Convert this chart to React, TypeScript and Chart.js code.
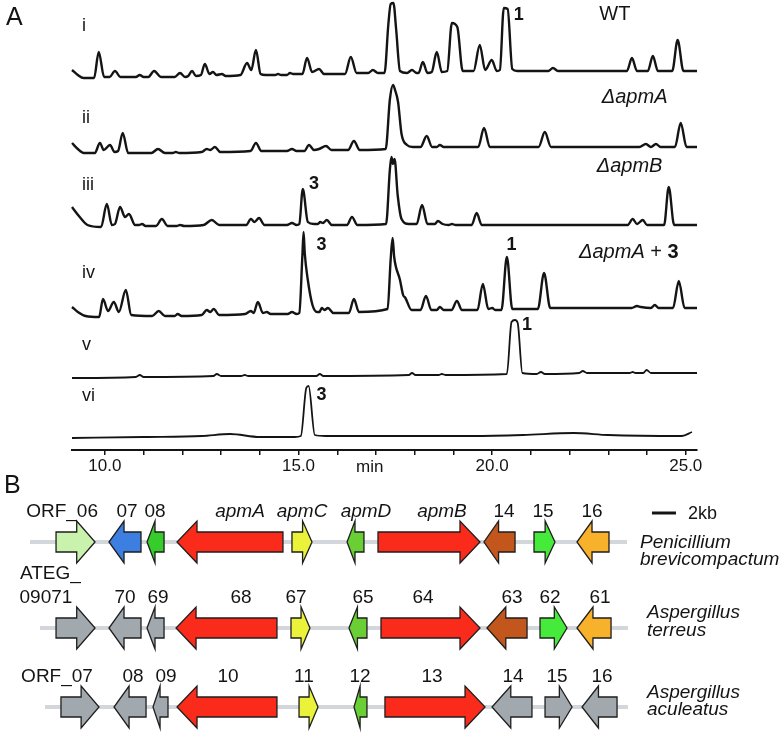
import React, { useEffect, useRef } from 'react';
import { Chart, registerables } from 'chart.js';
Chart.register(...registerables);

const FONT = "'Liberation Sans', Arial, Helvetica, sans-serif";
const INK = '#141414';

// ---------------- Panel A: chromatograms ----------------
const TIME_MIN = 9.15;
const TIME_MAX = 25.29;
const TIME_LABELS = [10, 15, 20, 25];
const TRACE_LABELS = ['i', 'ii', 'iii', 'iv', 'v', 'vi'];

// [retention time (min), signal]
const TRACE_I: [number, number][] = [
  [9.15, 9], [9.30, 4], [9.45, 1], [9.72, 1], [9.84, 27], [9.98, 2], [10.12, 2], [10.26, 8], [10.40, 2],
  [10.80, 2], [10.90, 4], [11.00, 2], [11.12, 2], [11.27, 8], [11.45, 2], [11.80, 2], [11.94, 6], [12.07, 2],
  [12.15, 3], [12.25, 8], [12.35, 3], [12.48, 4], [12.58, 15], [12.70, 5], [12.79, 7], [12.88, 4], [13.02, 5],
  [13.12, 3], [13.50, 4], [13.67, 16], [13.78, 9], [13.90, 29], [14.02, 5], [14.15, 4], [14.40, 4], [14.47, 5],
  [14.55, 4], [14.70, 4], [14.78, 6], [14.86, 5], [15.10, 5], [15.22, 21], [15.35, 7], [15.53, 10], [15.66, 5],
  [16.20, 5], [16.35, 22], [16.50, 6], [16.80, 6], [16.92, 9], [17.05, 6], [17.22, 6], [17.32, 55], [17.38, 75],
  [17.45, 76], [17.52, 50], [17.62, 8], [17.80, 6], [17.93, 9], [18.05, 6], [18.10, 6], [18.21, 17], [18.33, 6],
  [18.44, 7], [18.57, 27], [18.70, 7], [18.84, 8], [18.96, 56], [19.10, 52], [19.24, 8], [19.52, 8], [19.68, 34],
  [19.82, 9], [19.99, 19], [20.12, 8], [20.20, 9], [20.30, 71], [20.40, 70], [20.52, 10], [20.65, 8], [21.45, 8],
  [21.57, 11], [21.70, 8], [23.48, 8], [23.61, 21], [23.74, 8], [24.02, 8], [24.15, 23], [24.28, 8], [24.65, 8],
  [24.79, 39], [24.94, 8], [25.29, 8],
];
const TRACE_II: [number, number][] = [
  [9.15, 11], [9.30, 5], [9.45, 1], [9.74, 1], [9.87, 11], [9.97, 4], [10.13, 9], [10.25, 2], [10.34, 3],
  [10.46, 21], [10.60, 1], [11.20, 1], [11.37, 5], [11.55, 1], [11.75, 1], [11.83, 2], [11.92, 1], [12.50, 2],
  [12.63, 5], [12.72, 4], [12.84, 7], [12.98, 2], [13.76, 3], [13.90, 11], [14.04, 3], [14.70, 3], [14.83, 5],
  [14.95, 3], [15.15, 3], [15.27, 9], [15.40, 4], [15.53, 5], [15.71, 8], [15.85, 4], [16.28, 4], [16.43, 13],
  [16.58, 4], [17.25, 5], [17.36, 55], [17.44, 69], [17.50, 63], [17.57, 52], [17.66, 20], [17.80, 9], [17.95, 7],
  [18.15, 7], [18.31, 18], [18.45, 7], [18.57, 7], [18.65, 9], [18.75, 7], [19.64, 7], [19.79, 26], [19.94, 7],
  [21.20, 7], [21.36, 22], [21.52, 7], [23.80, 7], [23.97, 10], [24.10, 7], [24.23, 10], [24.35, 7], [24.72, 7],
  [24.87, 31], [25.02, 7], [25.29, 7],
];
const TRACE_III: [number, number][] = [
  [9.15, 20], [9.35, 10], [9.55, 2], [9.90, 0], [10.05, 23], [10.18, 2], [10.26, 3], [10.39, 20], [10.52, 10],
  [10.62, 13], [10.78, 2], [10.88, 2], [10.96, 3], [11.05, 1], [11.32, 1], [11.47, 8], [11.62, 1], [11.85, 1],
  [11.94, 2], [12.05, 1], [12.55, 2], [12.76, 7], [12.95, 2], [13.65, 2], [13.77, 8], [13.86, 5], [13.98, 9],
  [14.12, 2], [14.70, 2], [14.83, 4], [14.95, 2], [15.02, 3], [15.11, 38], [15.24, 5], [15.40, 3], [15.50, 3],
  [15.56, 5], [15.63, 4], [15.73, 7], [15.86, 2], [16.25, 2], [16.38, 10], [16.52, 2], [17.26, 3], [17.36, 58],
  [17.40, 70], [17.44, 63], [17.48, 68], [17.56, 32], [17.66, 8], [17.85, 3], [18.05, 3], [18.19, 22], [18.33, 3],
  [18.52, 3], [18.60, 6], [18.72, 3], [18.88, 2], [18.96, 3], [19.06, 2], [19.47, 2], [19.60, 14], [19.73, 2],
  [23.50, 2], [23.63, 8], [23.74, 3], [23.89, 7], [24.00, 2], [24.44, 2], [24.56, 40], [24.70, 2], [25.29, 2],
];
const TRACE_IV: [number, number][] = [
  [9.15, 10], [9.30, 5], [9.50, 1], [9.85, 0], [9.95, 18], [10.08, 6], [10.23, 15], [10.36, 5], [10.54, 27],
  [10.68, 2], [11.22, 1], [11.39, 6], [11.55, 1], [11.80, 1], [11.88, 3], [11.98, 1], [12.50, 2], [12.63, 7],
  [12.72, 5], [12.81, 8], [12.95, 2], [13.62, 3], [13.77, 6], [13.84, 4], [13.95, 15], [14.08, 4], [14.18, 5],
  [14.28, 3], [14.72, 3], [14.83, 5], [14.95, 3], [15.02, 4], [15.10, 62], [15.13, 85], [15.16, 64], [15.24, 37],
  [15.36, 12], [15.48, 5], [15.54, 5], [15.60, 9], [15.67, 7], [15.76, 9], [15.90, 4], [16.30, 4], [16.43, 18],
  [16.56, 5], [17.30, 8], [17.38, 58], [17.43, 79], [17.47, 60], [17.62, 37], [17.70, 22], [17.76, 19], [17.92, 7],
  [18.15, 7], [18.29, 21], [18.43, 7], [18.57, 7], [18.65, 10], [18.75, 7], [18.95, 7], [19.09, 16], [19.22, 7],
  [19.62, 7], [19.76, 33], [19.90, 8], [20.00, 9], [20.08, 7], [20.24, 7], [20.38, 60], [20.52, 8], [21.18, 8],
  [21.34, 44], [21.50, 9], [23.60, 9], [23.74, 11], [23.84, 10], [24.10, 9], [24.20, 12], [24.30, 9], [24.67, 9],
  [24.82, 36], [24.97, 9], [25.29, 9],
];
const TRACE_V: [number, number][] = [
  [9.15, 0], [10.80, 1], [10.90, 3], [11.00, 1], [12.80, 2], [12.89, 4], [13.00, 2], [13.52, 2], [13.61, 3],
  [13.70, 2], [15.46, 2], [15.55, 4], [15.64, 2], [17.85, 3], [17.93, 5], [18.02, 3], [18.62, 3], [18.70, 4],
  [18.80, 3], [20.38, 4], [20.50, 56], [20.59, 58], [20.66, 55], [20.78, 5], [21.15, 4], [21.26, 6], [21.36, 4],
  [22.25, 5], [22.34, 7], [22.45, 5], [23.55, 5], [23.63, 6], [23.70, 5], [23.90, 5], [23.99, 8], [24.10, 5],
  [25.29, 5],
];
const TRACE_VI: [number, number][] = [
  [9.15, 0], [11.00, 1], [12.50, 2], [13.23, 4], [14.00, 1], [14.90, 1], [15.06, 2], [15.20, 50], [15.26, 52],
  [15.42, 3], [15.70, 2], [17.50, 2], [19.50, 2], [20.80, 3], [22.10, 5], [23.00, 3], [24.90, 2], [25.16, 6],
];

const TRACES = [TRACE_I, TRACE_II, TRACE_III, TRACE_IV, TRACE_V, TRACE_VI];
// vertical stacking offsets and line widths (layout / style)
const TRACE_OFFSETS = [371, 296, 223, 133, 72, 12];
const TRACE_WIDTHS = [2.4, 2.4, 2.4, 2.4, 1.8, 1.8];
const TRACE_LABEL_Y = [419, 327, 260, 172, 100, 49];

type Part = { t: string; s?: 'italic' | 'bold' | 'normal' };
type Note = { parts: Part[]; x: number; y: number; size: number; align?: 'left' | 'center' };

const NOTES_A: Note[] = [
  { parts: [{ t: '1', s: 'bold' }], x: 20.69, y: 430, size: 18 },
  { parts: [{ t: '3', s: 'bold' }], x: 15.40, y: 261, size: 18 },
  { parts: [{ t: '3', s: 'bold' }], x: 15.59, y: 200, size: 18 },
  { parts: [{ t: '1', s: 'bold' }], x: 20.50, y: 200, size: 18 },
  { parts: [{ t: '1', s: 'bold' }], x: 20.90, y: 120, size: 18 },
  { parts: [{ t: '3', s: 'bold' }], x: 15.59, y: 50, size: 18 },
  { parts: [{ t: 'WT' }], x: 23.17, y: 430, size: 20 },
  { parts: [{ t: '\u0394apmA', s: 'italic' }], x: 23.68, y: 347, size: 20 },
  { parts: [{ t: '\u0394apmB', s: 'italic' }], x: 23.55, y: 278, size: 20 },
  { parts: [{ t: '\u0394apmA', s: 'italic' }, { t: ' + ' }, { t: '3', s: 'bold' }], x: 23.53, y: 192, size: 20 },
  { parts: [{ t: 'min' }], x: 16.84, y: -22, size: 17 },
];

function fontOf(s: string | undefined, size: number) {
  if (s === 'italic') return `italic ${size}px ${FONT}`;
  if (s === 'bold') return `bold ${size}px ${FONT}`;
  return `${size}px ${FONT}`;
}

function drawRich(ctx: CanvasRenderingContext2D, parts: Part[], x: number, y: number, size: number, align: 'left' | 'center' = 'center') {
  ctx.save();
  ctx.fillStyle = INK;
  ctx.textBaseline = 'alphabetic';
  ctx.textAlign = 'left';
  let total = 0;
  const widths = parts.map((p) => {
    ctx.font = fontOf(p.s, size);
    const w = ctx.measureText(p.t).width;
    total += w;
    return w;
  });
  let cx = align === 'center' ? x - total / 2 : x;
  parts.forEach((p, i) => {
    ctx.font = fontOf(p.s, size);
    ctx.fillText(p.t, cx, y);
    cx += widths[i];
  });
  ctx.restore();
}

const notesPluginA = {
  id: 'notesA',
  afterDraw(chart: any) {
    const { ctx, scales } = chart;
    const xs = scales.x, ys = scales.y;
    TRACE_LABELS.forEach((lab, i) => {
      drawRich(ctx, [{ t: lab }], xs.getPixelForValue(9.41), ys.getPixelForValue(TRACE_LABEL_Y[i]), 18, 'left');
    });
    NOTES_A.forEach((n) => {
      drawRich(ctx, n.parts, xs.getPixelForValue(n.x), ys.getPixelForValue(n.y), n.size, n.align || 'center');
    });
    drawRich(ctx, [{ t: 'A' }], 6, 25, 25, 'left');
    drawRich(ctx, [{ t: 'B' }], 4, 493, 25, 'left');
  },
};

// ---------------- Panel B: gene clusters (positions in kb) ----------------
const P_NAMES = ['ORF_06', '07', '08', 'apmA', 'apmC', 'apmD', 'apmB', '14', '15', '16'];
const P_START = [4.67, 9.08, 12.25, 14.75, 24.33, 28.92, 31.5, 40.33, 44.5, 48.08];
const P_END = [7.92, 11.75, 13.67, 23.58, 26.0, 30.33, 40.0, 42.92, 46.25, 50.75];
const P_STRAND = [1, -1, -1, -1, 1, -1, 1, -1, 1, -1];
const P_COLOR = ['#c9f2ad', '#3d7fe0', '#35cc2c', '#fb2b1c', '#eaf23a', '#69cf34', '#fb2b1c', '#c2561c', '#46ea3a', '#f8b12a'];
const P_LABEL_AT = [5.17, 10.58, 12.92, 20.0, 25.17, 30.5, 36.83, 42.0, 45.25, 49.33];
const P_TRACK = [2.5, 52.25];

const T_NAMES = ['09071', '70', '69', '68', '67', '65', '64', '63', '62', '61'];
const T_START = [4.67, 9.08, 12.25, 14.67, 24.25, 29.08, 31.75, 40.58, 45.0, 48.08];
const T_END = [7.92, 11.75, 13.67, 23.08, 25.83, 30.58, 40.0, 43.92, 47.25, 50.92];
const T_STRAND = [1, -1, -1, -1, 1, -1, 1, -1, 1, -1];
const T_COLOR = ['#a2a9ae', '#a2a9ae', '#a2a9ae', '#fb2b1c', '#eaf23a', '#69cf34', '#fb2b1c', '#c2561c', '#46ea3a', '#f8b12a'];
const T_LABEL_AT = [3.83, 10.42, 13.17, 20.08, 24.67, 30.25, 35.25, 42.67, 45.83, 50.0];
const T_TRACK = [3.33, 52.33];

const A_NAMES = ['ORF_07', '08', '09', '10', '11', '12', '13', '14', '15', '16'];
const A_START = [5.08, 9.5, 12.75, 14.75, 24.92, 29.5, 32.08, 41.0, 45.42, 48.5];
const A_END = [8.25, 12.17, 14.0, 23.08, 26.5, 30.58, 40.42, 44.33, 47.67, 51.42];
const A_STRAND = [1, -1, -1, -1, 1, -1, 1, -1, 1, -1];
const A_COLOR = ['#a2a9ae', '#a2a9ae', '#a2a9ae', '#fb2b1c', '#eaf23a', '#69cf34', '#fb2b1c', '#a2a9ae', '#a2a9ae', '#a2a9ae'];
const A_LABEL_AT = [4.75, 11.08, 13.83, 19.0, 25.33, 30.0, 36.0, 42.75, 46.42, 50.17];
const A_TRACK = [3.75, 52.33];

const SPECIES = [['Penicillium', 'brevicompactum'], ['Aspergillus', 'terreus'], ['Aspergillus', 'aculeatus']];
const T_PREFIX = 'ATEG_';
const SCALE_BAR_KB = 2;

// layout for panel B (canvas-local units)
const ROW_Y = [42, 128, 207];
const SPECIES_DY = [[6, 23], [-10, 8], [-9, 8]];
const KB_RANGE = 784 / 12;

const ROWS = [
  { names: P_NAMES, starts: P_START, ends: P_END, strands: P_STRAND, colors: P_COLOR, labels: P_LABEL_AT, track: P_TRACK },
  { names: T_NAMES, starts: T_START, ends: T_END, strands: T_STRAND, colors: T_COLOR, labels: T_LABEL_AT, track: T_TRACK },
  { names: A_NAMES, starts: A_START, ends: A_END, strands: A_STRAND, colors: A_COLOR, labels: A_LABEL_AT, track: A_TRACK },
];

function drawArrow(ctx: CanvasRenderingContext2D, x1: number, x2: number, cy: number, strand: number, color: string) {
  const len = x2 - x1;
  const hl = Math.min(20, 0.47 * len);
  const bh = 10, hh = 21;
  ctx.beginPath();
  if (strand > 0) {
    ctx.moveTo(x1, cy - bh);
    ctx.lineTo(x2 - hl, cy - bh);
    ctx.lineTo(x2 - hl, cy - hh);
    ctx.lineTo(x2, cy);
    ctx.lineTo(x2 - hl, cy + hh);
    ctx.lineTo(x2 - hl, cy + bh);
    ctx.lineTo(x1, cy + bh);
  } else {
    ctx.moveTo(x2, cy - bh);
    ctx.lineTo(x1 + hl, cy - bh);
    ctx.lineTo(x1 + hl, cy - hh);
    ctx.lineTo(x1, cy);
    ctx.lineTo(x1 + hl, cy + hh);
    ctx.lineTo(x1 + hl, cy + bh);
    ctx.lineTo(x2, cy + bh);
  }
  ctx.closePath();
  ctx.fillStyle = color;
  ctx.fill();
  ctx.lineWidth = 1.3;
  ctx.strokeStyle = '#1e1e1e';
  ctx.lineJoin = 'miter';
  ctx.stroke();
}

const genePlugin = {
  id: 'genes',
  afterDraw(chart: any) {
    const { ctx, scales } = chart;
    const xs = scales.x, ys = scales.y;
    ROWS.forEach((row, r) => {
      const cy = ys.getPixelForValue(ROW_Y[r]);
      ctx.save();
      ctx.strokeStyle = '#d3d7db';
      ctx.lineWidth = 4;
      ctx.beginPath();
      ctx.moveTo(xs.getPixelForValue(row.track[0]), cy);
      ctx.lineTo(xs.getPixelForValue(row.track[1]), cy);
      ctx.stroke();
      row.starts.forEach((s, i) => {
        drawArrow(ctx, xs.getPixelForValue(s), xs.getPixelForValue(row.ends[i]), cy, row.strands[i], row.colors[i]);
      });
      ctx.restore();
      row.names.forEach((name, i) => {
        const italic = name.startsWith('apm');
        drawRich(ctx, [{ t: name, s: italic ? 'italic' : 'normal' }], xs.getPixelForValue(row.labels[i]), cy - 25, 19, 'center');
      });
      if (r === 1) {
        drawRich(ctx, [{ t: T_PREFIX }], 20, cy - 49, 19, 'left');
      }
      const sx = 640 + (r === 0 ? 0 : 7);
      drawRich(ctx, [{ t: SPECIES[r][0], s: 'italic' }], sx, cy + SPECIES_DY[r][0], 19, 'left');
      drawRich(ctx, [{ t: SPECIES[r][1], s: 'italic' }], sx, cy + SPECIES_DY[r][1], 19, 'left');
    });
    // scale bar
    const bx0 = xs.getPixelForValue(54.33);
    const bx1 = xs.getPixelForValue(54.33 + SCALE_BAR_KB);
    const by = ys.getPixelForValue(13);
    ctx.save();
    ctx.strokeStyle = INK;
    ctx.lineWidth = 3;
    ctx.beginPath();
    ctx.moveTo(bx0, by);
    ctx.lineTo(bx1, by);
    ctx.stroke();
    ctx.restore();
    drawRich(ctx, [{ t: `${SCALE_BAR_KB}kb` }], bx1 + 12, by + 6, 18, 'left');
  },
};

export default function App() {
  const refA = useRef<HTMLCanvasElement>(null);
  const refB = useRef<HTMLCanvasElement>(null);

  useEffect(() => {
    const datasets = TRACES.map((tr, i) => ({
      label: TRACE_LABELS[i],
      data: tr.map(([t, h]) => ({ x: t, y: h + TRACE_OFFSETS[i] })),
      borderColor: INK,
      borderWidth: TRACE_WIDTHS[i],
      pointRadius: 0,
      fill: false,
      borderJoinStyle: 'round' as const,
      cubicInterpolationMode: 'monotone' as const,
      clip: false as any,
    }));
    const chartA = new Chart(refA.current!, {
      type: 'line',
      data: { datasets },
      options: {
        responsive: false,
        animation: false,
        layout: { padding: { left: 72, right: 87, top: 0, bottom: 0 } },
        plugins: { legend: { display: false }, tooltip: { enabled: false } },
        scales: {
          x: {
            type: 'linear',
            min: TIME_MIN,
            max: TIME_MAX,
            afterFit: (s: any) => { s.height = 50; },
            border: { display: true, color: INK, width: 2 },
            grid: { display: true, drawOnChartArea: false, drawTicks: true, tickLength: 5, color: INK, lineWidth: 1.5 },
            ticks: {
              stepSize: 1,
              includeBounds: false,
              autoSkip: false,
              maxRotation: 0,
              padding: 1,
              color: INK,
              font: { family: FONT, size: 17 },
              callback: (v: any) => (TIME_LABELS.includes(Number(v)) ? Number(v).toFixed(1) : ''),
            },
          },
          y: { type: 'linear', min: 0, max: 450, display: false },
        },
      },
      plugins: [notesPluginA],
    });
    const chartB = new Chart(refB.current!, {
      type: 'scatter',
      data: { datasets: [] },
      options: {
        responsive: false,
        animation: false,
        layout: { padding: 0 },
        plugins: { legend: { display: false }, tooltip: { enabled: false } },
        scales: {
          x: { type: 'linear', min: 0, max: KB_RANGE, display: false },
          y: { type: 'linear', min: 0, max: 237, reverse: true, display: false },
        },
      },
      plugins: [genePlugin],
    });
    return () => {
      chartA.destroy();
      chartB.destroy();
    };
  }, []);

  return (
    <div style={{ position: 'absolute', left: 0, top: 0, width: 784, height: 737, background: '#fff' }}>
      <canvas ref={refA} width={784} height={500} style={{ position: 'absolute', left: 0, top: 0 }} />
      <canvas ref={refB} width={784} height={237} style={{ position: 'absolute', left: 0, top: 500 }} />
    </div>
  );
}
